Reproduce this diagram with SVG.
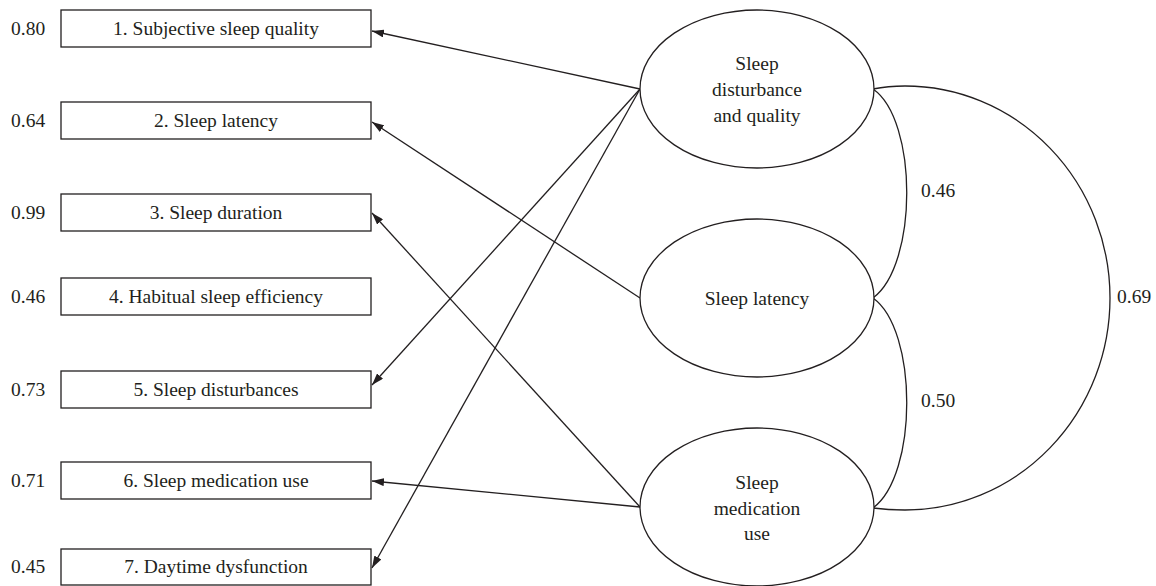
<svg xmlns="http://www.w3.org/2000/svg" width="1156" height="586" viewBox="0 0 1156 586">
<style>
text{font-family:'Liberation Serif','DejaVu Serif',serif;font-size:19.5px;fill:#231f20}
.box{fill:#fff;stroke:#231f20;stroke-width:1.3}
.ell{fill:#fff;stroke:#231f20;stroke-width:1.3}
.c{text-anchor:middle}
.ln{fill:none;stroke:#231f20;stroke-width:1.3}
</style>
<defs>
<marker id="ah" viewBox="0 0 12 8" refX="12" refY="4" markerWidth="12" markerHeight="8" markerUnits="userSpaceOnUse" orient="auto">
<path d="M0,0 L12,4 L0,8 z" fill="#231f20"/>
</marker>
</defs>
<g id="connectors">
<path class="ln" marker-end="url(#ah)" d="M640,89 L372,31"/>
<path class="ln" marker-end="url(#ah)" d="M640,89 L372,385"/>
<path class="ln" marker-end="url(#ah)" d="M640,89 L372,568"/>
<path class="ln" marker-end="url(#ah)" d="M640,298 L372,122"/>
<path class="ln" marker-end="url(#ah)" d="M640,507 L372,213"/>
<path class="ln" marker-end="url(#ah)" d="M640,507 L372,481"/>
<path class="ln" d="M873,89 C918,120 918,265 873,298"/>
<path class="ln" d="M873,298 C918,330 918,475 873,508"/>
<path class="ln" d="M873,89 Q888,86 905,86 A205,212 0 0 1 905,510 Q888,510 873,508"/>
</g>
<g id="n1"><rect class="box" x="61" y="10" width="310" height="37"/><text class="c" x="216" y="35">1. Subjective sleep quality</text><text x="11" y="35">0.80</text></g>
<g id="n2"><rect class="box" x="61" y="102" width="310" height="37"/><text class="c" x="216" y="127">2. Sleep latency</text><text x="11" y="127">0.64</text></g>
<g id="n3"><rect class="box" x="61" y="194" width="310" height="37"/><text class="c" x="216" y="219">3. Sleep duration</text><text x="11" y="219">0.99</text></g>
<g id="n4"><rect class="box" x="61" y="278" width="310" height="37"/><text class="c" x="216" y="303">4. Habitual sleep efficiency</text><text x="11" y="303">0.46</text></g>
<g id="n5"><rect class="box" x="61" y="371" width="310" height="37"/><text class="c" x="216" y="396">5. Sleep disturbances</text><text x="11" y="396">0.73</text></g>
<g id="n6"><rect class="box" x="61" y="462" width="310" height="37"/><text class="c" x="216" y="487">6. Sleep medication use</text><text x="11" y="487">0.71</text></g>
<g id="n7"><rect class="box" x="61" y="549" width="310" height="36"/><text class="c" x="216" y="573">7. Daytime dysfunction</text><text x="11" y="573">0.45</text></g>
<g id="f1"><ellipse class="ell" cx="757" cy="89" rx="117" ry="79"/><text class="c" x="757" y="70">Sleep</text><text class="c" x="757" y="96">disturbance</text><text class="c" x="757" y="122">and quality</text></g>
<g id="f2"><ellipse class="ell" cx="757" cy="298" rx="117" ry="79"/><text class="c" x="757" y="305">Sleep latency</text></g>
<g id="f3"><ellipse class="ell" cx="757" cy="507" rx="117" ry="79"/><text class="c" x="757" y="489">Sleep</text><text class="c" x="757" y="515">medication</text><text class="c" x="757" y="540">use</text></g>
<g id="labels"><text x="921" y="197">0.46</text><text x="921" y="407">0.50</text><text x="1117" y="303">0.69</text></g>
</svg>
